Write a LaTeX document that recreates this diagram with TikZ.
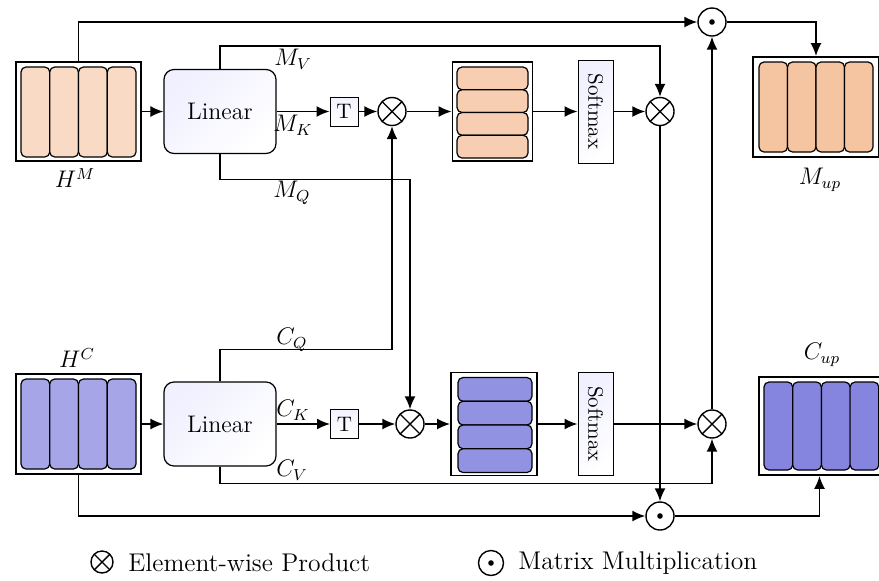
\documentclass[tikz,border=0pt]{standalone}
\usetikzlibrary{arrows.meta,calc}
\definecolor{peachA}{RGB}{248,218,197}
\definecolor{peachB}{RGB}{248,206,178}
\definecolor{peachC}{RGB}{245,196,160}
\definecolor{violetA}{RGB}{165,165,232}
\definecolor{violetB}{RGB}{146,146,226}
\definecolor{violetC}{RGB}{133,133,224}
\tikzset{
	stackbox/.style={draw, line width=0.9pt, inner sep=0pt, fill=white},
	bar/.style={draw, line width=0.6pt, rounded corners=2.5pt},
	linbox/.style={draw, line width=0.6pt, rounded corners=5pt,
		minimum width=56pt, minimum height=42pt,
		top color=blue!6, bottom color=white, shading angle=45,
		font=\fontsize{12}{14}\selectfont},
	tbox/.style={draw, line width=0.5pt, inner sep=0pt,
		minimum width=14pt, minimum height=14.5pt,
		top color=blue!5, bottom color=white,
		font=\fontsize{10.5}{12}\selectfont},
	softbox/.style={draw, line width=0.5pt, inner sep=0pt,
		minimum width=17.5pt, minimum height=51.5pt,
		top color=blue!6, bottom color=white, shading angle=45},
	prod/.style={circle, draw, line width=0.7pt, fill=white, inner sep=0pt,
		minimum size=14pt,
		path picture={\draw[black, line width=0.7pt]
			(path picture bounding box.south west) -- (path picture bounding box.north east)
			(path picture bounding box.north west) -- (path picture bounding box.south east);}},
	mmul/.style={circle, draw, line width=0.7pt, fill=white, inner sep=0pt,
		minimum size=14pt,
		path picture={\fill[black] (path picture bounding box.center) circle (1.4pt);}},
	wire/.style={line width=0.8pt, -{Latex[length=6.5pt,width=5.5pt]}},
	lbl/.style={font=\fontsize{11.5}{13}\selectfont, inner sep=0pt},
	legend/.style={font=\fontsize{12.8}{15}\selectfont, anchor=west, inner sep=0pt}
}
\newcommand{\colbars}[5]{%
	\foreach \k in {0,...,3}{\draw[bar, fill=#5] ({#1+\k*#3},#2) rectangle ++(#3,#4);}}
\newcommand{\rowbars}[5]{%
	\foreach \k in {0,...,3}{\draw[bar, fill=#5] (#1,{#2+\k*#4}) rectangle ++(#3,#4);}}

\begin{document}
\begin{tikzpicture}[x=0.5pt, y=-0.5pt]
\useasboundingbox (0,0) rectangle (879,580);

% upper branch
\node [stackbox, minimum width=62.5pt, minimum height=49.5pt] (HM) at (78.5,111.5) {};
\colbars{21}{67}{28.75}{90}{peachA}
\node [lbl] (HMlbl) at (75,178) {$H^{M}$};
\node [linbox] (LinM) at (220,111.5) {Linear};
\node [tbox] (TM) at (344,111.5) {T};
\node [prod] (otM1) at (392,111.5) {};
\node [stackbox, minimum width=40pt, minimum height=49.5pt] (MatM) at (492.5,111.5) {};
\rowbars{457}{67}{71}{22.75}{peachB}
\node [softbox] (SoftM) at (595.5,111.5) {\rotatebox{-90}{\fontsize{10.5}{12}\selectfont Softmax}};
\node [prod] (otM2) at (660,111.5) {};
\node [mmul] (odotT) at (712,22) {};
\node [stackbox, minimum width=63pt, minimum height=50pt] (Mup) at (816,107) {};
\colbars{759}{62}{28.5}{90}{peachC}
\node [lbl] (Muplbl) at (820,180) {$M_{up}$};

% lower branch
\node [stackbox, minimum width=62.5pt, minimum height=50pt] (HC) at (78.5,424) {};
\colbars{21}{379}{28.75}{90}{violetA}
\node [lbl] (HClbl) at (77,358) {$H^{C}$};
\node [linbox] (LinC) at (220,424) {Linear};
\node [tbox] (TC) at (344.5,424) {T};
\node [prod] (otC1) at (410,424) {};
\node [stackbox, minimum width=43pt, minimum height=51.5pt] (MatC) at (494,424) {};
\rowbars{458}{377.5}{74}{23.75}{violetB}
\node [softbox] (SoftC) at (595.5,424) {\rotatebox{-90}{\fontsize{10.5}{12}\selectfont Softmax}};
\node [prod] (otC2) at (712,424) {};
\node [mmul] (odotB) at (660,516) {};
\node [stackbox, minimum width=60.5pt, minimum height=49pt] (Cup) at (819.5,426) {};
\colbars{764}{382}{28.7}{88}{violetC}
\node [lbl] (Cuplbl) at (822,355) {$C_{up}$};

% connections
\draw [wire] (HM.north) |- (odotT.west);
\draw [wire] (HM.east) -- (LinM.west);
\draw [wire] (LinM.north) -- ++(0,-23) -| (otM2.north);
\draw [wire] (LinM.east) -- (TM.west);
\draw [wire] (TM.east) -- (otM1.west);
\draw [wire] (otM1.east) -- (MatM.west);
\draw [wire] (MatM.east) -- (SoftM.west);
\draw [wire] (SoftM.east) -- (otM2.west);
\draw [wire] (otM2.south) -- (odotB.north);
\draw [wire] (LinM.south) -- ++(0,25.5) -| (otC1.north);
\draw [wire] (odotT.east) -| (Mup.north);

\draw [wire] (HC.east) -- (LinC.west);
\draw [wire] (LinC.north) -- ++(0,-32) -| (otM1.south);
\draw [wire] (LinC.east) -- (TC.west);
\draw [wire] (TC.east) -- (otC1.west);
\draw [wire] (otC1.east) -- (MatC.west);
\draw [wire] (MatC.east) -- (SoftC.west);
\draw [wire] (SoftC.east) -- (otC2.west);
\draw [wire] (LinC.south) -- ++(0,17) -| (otC2.south);
\draw [wire] (otC2.north) -- (odotT.south);
\draw [wire] (HC.south) |- (odotB.west);
\draw [wire] (odotB.east) -| (Cup.south);

% labels
\node [lbl] (MV) at (293,59) {$M_{V}$};
\node [lbl] (MK) at (293,125) {$M_{K}$};
\node [lbl] (MQ) at (292,193) {$M_{Q}$};
\node [lbl] (CQ) at (292,340) {$C_{Q}$};
\node [lbl] (CK) at (293,410) {$C_{K}$};
\node [lbl] (CV) at (292,470) {$C_{V}$};

% legend
\node [prod, minimum size=11pt] (legprod) at (102,562) {};
\node [legend] (legprodtxt) at (128,563) {Element-wise Product};
\node [mmul, minimum size=12.5pt] (legmmul) at (491,563) {};
\node [legend] (legmmultxt) at (518,563) {Matrix Multiplication};
\end{tikzpicture}
\end{document}
